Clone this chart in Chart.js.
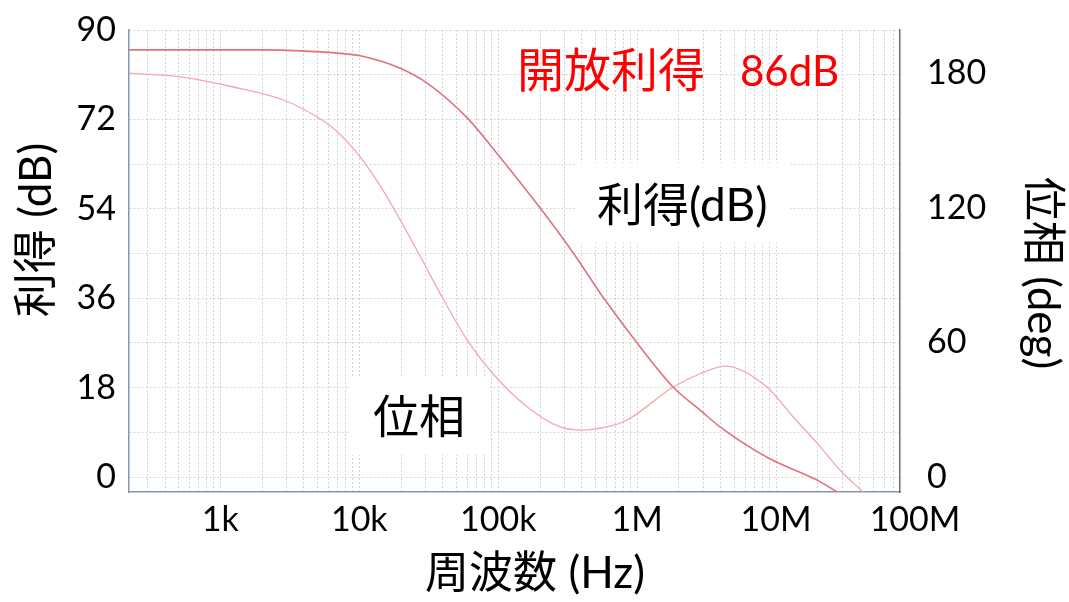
<!DOCTYPE html>
<html>
<head>
<meta charset="utf-8">
<script src="https://cdn.jsdelivr.net/npm/chart.js@4/dist/chart.umd.min.js"></script>
<style>
  html, body { margin: 0; padding: 0; background: #fff; }
  #wrap { width: 1069px; height: 602px; }
</style>
</head>
<body>
<div id="wrap"><canvas id="bode" width="1069" height="602"></canvas></div>
<script>
// Open-loop Bode plot of an op-amp: gain (dB, left axis) and phase (deg, right axis)

// Gain curve samples
const gainFreq = [220, 1000, 2000, 3770, 8600, 10200, 19700, 30800, 59800, 103000, 200000,
                  347000, 569000, 1000000, 1820000, 2840000, 3950000, 8600000, 19700000, 27500000];
const gainDb   = [86, 86, 86, 85.8, 85.1, 84.8, 82.3, 79.3, 72.3, 64.4, 54.2,
                  45.1, 36.2, 27.0, 18.1, 13.5, 10.1, 4.0, -0.6, -3.0];

// Phase curve samples
const phaseFreq = [220, 515, 1240, 2840, 4990, 6400, 8200, 10500, 13500, 17600, 26600, 40200,
                   59800, 92000, 162000, 279000, 409000, 605000, 847000, 1820000, 2840000,
                   4300000, 8600000, 13300000, 19700000, 28800000, 42300000];
const phaseDeg  = [180, 178.3, 173.8, 168, 160.4, 155.7, 149.4, 141.4, 131.7, 119.9, 99.9, 79.3,
                   61, 45.9, 31.2, 22.3, 20.9, 22.3, 25.4, 40.1, 46.0,
                   49.4, 40.1, 26.7, 15.2, 3.1, -6.7];

// Axis ticks
const decadeLabels = { 1e3: '1k', 1e4: '10k', 1e5: '100k', 1e6: '1M', 1e7: '10M', 1e8: '100M' };
const gainTicks  = [0, 9, 18, 27, 36, 45, 54, 63, 72, 81, 90];
const gainLabels = [0, 18, 36, 54, 72, 90];
const phaseTicks = [0, 60, 120, 180];

const FONT = "Lato, 'Noto Sans CJK JP', sans-serif";
const GRID = '#d4d4d4';

function pairs(xs, ys) { return xs.map((x, i) => ({ x: x, y: ys[i] })); }

// grid lines at 1..9 × each decade
function logGrid(min, max) {
  const out = [];
  for (let e = 2; e <= 8; e++) {
    for (let m = 1; m <= 9; m++) {
      const v = m * Math.pow(10, e);
      if (v >= min && v <= max) out.push({ value: v });
    }
  }
  return out;
}

// fixed box sizes so the plot area lands where intended
function fixSize(prop, size) {
  return s => {
    s[prop] = size;
    s.paddingTop = 0; s.paddingBottom = 0; s.paddingLeft = 0; s.paddingRight = 0;
  };
}

const TICK_PAD_X = 8;
const TICK_FONT = { family: FONT, size: 34 };

const overlay = {
  id: 'overlay',
  beforeDatasetsDraw(chart) {
    const ctx = chart.ctx;
    ctx.save();
    ctx.fillStyle = '#ffffff';
    ctx.fillRect(575, 163, 215, 80);
    ctx.fillRect(350, 377, 140, 78);
    ctx.restore();
  },
  afterDraw(chart) {
    const ctx = chart.ctx;
    const xs = chart.scales.x;
    ctx.save();
    ctx.fillStyle = '#000';

    // last decade label sits just past the right edge of the plot
    ctx.font = TICK_FONT.size + 'px ' + FONT;
    ctx.textAlign = 'center';
    ctx.textBaseline = 'middle';
    const lh = TICK_FONT.size * 1.2;
    ctx.fillText(decadeLabels[1e8], xs.getPixelForValue(1e8), xs.top + TICK_PAD_X + lh / 2);

    // axis titles
    ctx.font = '44px ' + FONT;
    ctx.textAlign = 'center';
    ctx.textBaseline = 'middle';
    ctx.fillText('周波数 (Hz)', 535, 574);

    ctx.save();
    ctx.translate(37, 230);
    ctx.rotate(-Math.PI / 2);
    ctx.fillText('利得 (dB)', 0, 0);
    ctx.restore();

    ctx.save();
    ctx.translate(1042, 273);
    ctx.rotate(Math.PI / 2);
    ctx.fillText('位相 (deg)', 0, 0);
    ctx.restore();

    // curve labels
    ctx.textAlign = 'left';
    ctx.font = '46px ' + FONT;
    ctx.fillText('利得(dB)', 597, 206);
    ctx.fillText('位相', 373, 418);

    ctx.fillStyle = '#ff0000';
    ctx.font = '47px ' + FONT;
    ctx.fillText('開放利得', 517, 72);
    ctx.font = '42px ' + FONT;
    ctx.fillText('86dB', 740, 72);
    ctx.restore();
  }
};

new Chart(document.getElementById('bode'), {
  type: 'line',
  data: {
    datasets: [
      {
        label: '利得(dB)',
        data: pairs(gainFreq, gainDb),
        yAxisID: 'y',
        borderColor: '#e0727e',
        borderWidth: 1.6,
        pointRadius: 0,
        cubicInterpolationMode: 'monotone',
        fill: false
      },
      {
        label: '位相',
        data: pairs(phaseFreq, phaseDeg),
        yAxisID: 'y2',
        borderColor: '#f2a8ae',
        borderWidth: 1.3,
        pointRadius: 0,
        cubicInterpolationMode: 'monotone',
        fill: false
      }
    ]
  },
  options: {
    responsive: false,
    animation: false,
    devicePixelRatio: 1,
    layout: { padding: { top: 30, left: 0, right: 0, bottom: 0 } },
    plugins: { legend: { display: false }, tooltip: { enabled: false } },
    scales: {
      x: {
        type: 'logarithmic',
        position: 'bottom',
        min: 220,
        max: 7.8e7,
        afterBuildTicks: s => { s.ticks = logGrid(s.min, s.max); },
        afterFit: fixSize('height', 110),
        ticks: {
          autoSkip: false,
          maxRotation: 0,
          padding: TICK_PAD_X,
          color: '#000',
          font: TICK_FONT,
          callback: v => decadeLabels[v] || ''
        },
        grid: { color: GRID, lineWidth: 1, drawTicks: false },
        border: { color: '#8496ae', width: 1.5, dash: [2, 2] }
      },
      y: {
        type: 'linear',
        position: 'left',
        min: -3,
        max: 90,
        afterBuildTicks: s => { s.ticks = gainTicks.map(v => ({ value: v })); },
        afterFit: fixSize('width', 129),
        ticks: {
          padding: 13,
          color: '#000',
          font: TICK_FONT,
          callback: v => gainLabels.includes(v) ? String(v) : ''
        },
        grid: { color: GRID, lineWidth: 1, drawTicks: false },
        border: { color: '#8496ae', width: 1.5, dash: [2, 2] }
      },
      y2: {
        type: 'linear',
        position: 'right',
        min: -6.7,
        max: 199.2,
        afterBuildTicks: s => { s.ticks = phaseTicks.map(v => ({ value: v })); },
        afterFit: fixSize('width', 169),
        ticks: {
          padding: 27,
          color: '#000',
          font: TICK_FONT,
          callback: v => String(v)
        },
        grid: { display: false, drawTicks: false },
        border: { color: '#6e6e6e', width: 1.5 }
      }
    }
  },
  plugins: [overlay]
});
</script>
</body>
</html>
